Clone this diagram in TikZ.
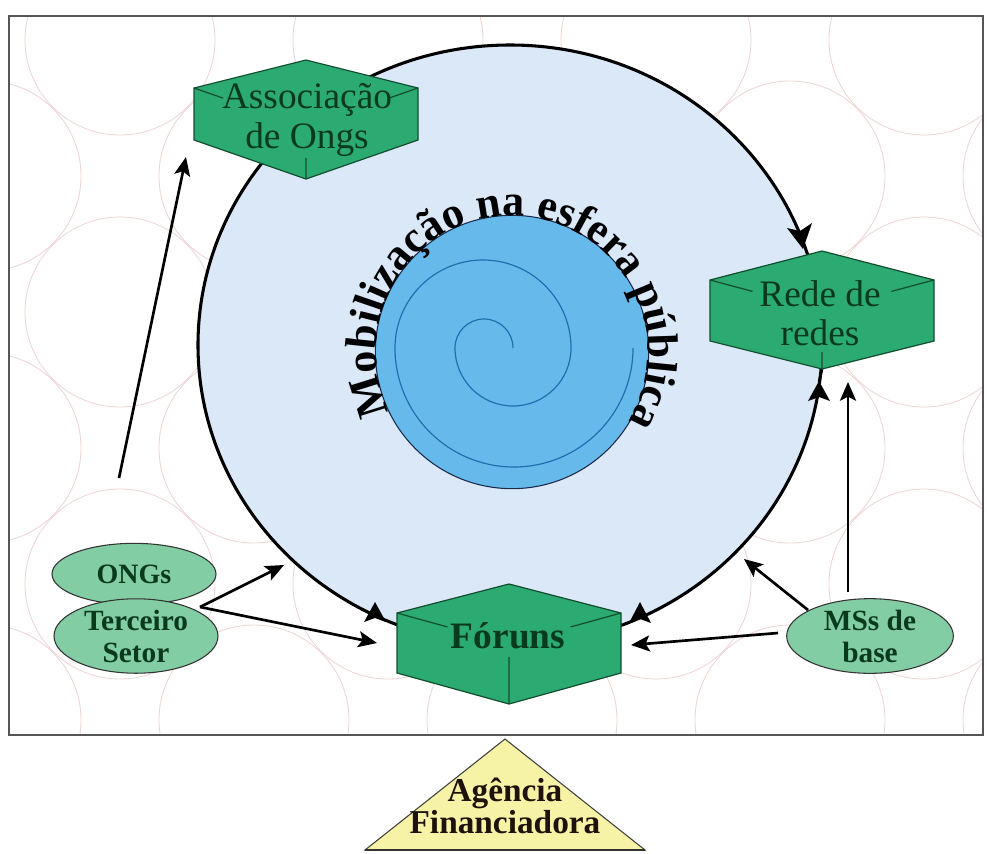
\documentclass[tikz,border=0pt]{standalone}
\usepackage{fontspec}
\setmainfont{Liberation Serif}
\usetikzlibrary{arrows.meta,decorations.text,shapes.geometric}

\definecolor{bigblue}{HTML}{DAE8F8}
\definecolor{innerblue}{HTML}{66BAEB}
\definecolor{spiralcol}{HTML}{1F6FB0}
\definecolor{navyline}{HTML}{1A2A4A}
\definecolor{boxgreen}{HTML}{2BAA72}
\definecolor{boxline}{HTML}{124D2E}
\definecolor{boxtext}{HTML}{0A3A1E}
\definecolor{ellgreen}{HTML}{82CDA3}
\definecolor{triyellow}{HTML}{F7F3A6}
\definecolor{pinkline}{HTML}{EDD3D3}
\definecolor{framecol}{HTML}{555555}

% #1 cx, #2 top, #3 side top, #4 side bottom, #5 bottom, #6 centre vertex,
% #7 visible fraction of the upper inner edges, #8 y where the vertical edge stops
\newcommand\cubeshape[8]{%
  \draw[cubeface] (#1,#2) -- (#1+112,#3) -- (#1+112,#4) -- (#1,#5) -- (#1-112,#4) -- (#1-112,#3) -- cycle;
  \draw[cubeedge] (#1-112,#3) -- (#1-112+112*#7,#3+#6*#7-#3*#7)
                  (#1+112,#3) -- (#1+112-112*#7,#3+#6*#7-#3*#7)
                  (#1,#5) -- (#1,#8);
}

\tikzset{
  cubeface/.style={fill=boxgreen, draw=boxline, line width=0.9pt},
  cubeedge/.style={draw=boxline, line width=0.9pt},
  cubetext/.style={text=boxtext, align=center, inner sep=1pt},
  ellnode/.style={ellipse, draw=black!80, fill=ellgreen, line width=0.8pt, inner sep=0pt,
     text=boxtext, align=center, font=\bfseries\fontsize{22}{24}\selectfont},
  arr/.style={draw=black, line width=2pt, -{Stealth[length=14pt,width=12pt,inset=3pt]}},
  headfill/.style={fill=black},
  patt/.style={draw=pinkline, line width=0.6pt}
}

\begin{document}
\begin{tikzpicture}[x=0.75pt,y=-0.75pt]
\useasboundingbox (0,0) rectangle (987,853);
\fill[white] (0,0) rectangle (987,853);

% background texture
\begin{scope}
  \clip (9,16) rectangle (983,735);
  \foreach \k in {0,...,6}{
    \pgfmathsetmacro\yy{40+136*\k}
    \pgfmathsetmacro\off{mod(\k,2)*134}
    \foreach \i in {-1,...,4}{
      \pgfmathsetmacro\xx{120+\off+268*\i}
      \draw[patt] (\xx,\yy) circle[radius=95];
    }
  }
\end{scope}
\draw[framecol, line width=1.5pt] (9,16) rectangle (983,735);

% big sphere
\node (esfera) [ellipse, draw=black, line width=2.3pt, fill=bigblue,
  minimum width=468pt, minimum height=450pt, inner sep=0pt] at (510,345) {};

% inner circle and spiral
\node (nucleo) [circle, draw=navyline, fill=innerblue, line width=0.8pt,
  minimum size=205pt, inner sep=0pt] at (512,352) {};
\draw[spiralcol, line width=0.9pt] (513,348)
  arc[start angle=0, end angle=-180, radius=29]
  arc[start angle=180, end angle=0, radius=58]
  arc[start angle=0, end angle=-180, radius=88]
  arc[start angle=180, end angle=0, radius=119];

% curved title text
\path[decorate, decoration={text along path,
  text={|\fontsize{33}{33}\selectfont\bfseries|Mobilização na esfera pública},
  text align={fit to path}}]
  (389.8,411.6) arc[start angle=-206, end angle=31, radius=136];

% arrowheads sitting on the circle
\fill[headfill] (803,249) -- (787,228) -- (800,231) -- (812,223) -- cycle;
\draw[line width=2pt] (819,382) -- (822,369);
\fill[headfill] (819,381) -- (830,401) -- (819,397) -- (808,401) -- cycle;
\fill[headfill] (640,602) -- (651,623) -- (640,619) -- (629,623) -- cycle;
\fill[headfill] (375,602) -- (386,622) -- (375,618) -- (364,622) -- cycle;

% cubes
\cubeshape{306}{60}{88}{140}{179}{127}{0.26}{158}
\node[cubetext, font=\fontsize{28}{30}\selectfont] (assoc) at (307,120) {Associação\\de Ongs};

\cubeshape{822}{251}{280}{341}{369}{310}{0.38}{352}
\node[cubetext, font=\fontsize{28}{29}\selectfont] (rede) at (820,313) {Rede de\\redes};

\cubeshape{509}{584}{613}{673}{704}{644}{0.45}{657}
\node[cubetext, font=\bfseries\fontsize{28}{30}\selectfont] (foruns) at (508,636) {Fóruns};

% ellipses
\node[ellnode, minimum width=123pt, minimum height=46pt, font=\bfseries\fontsize{21}{23}\selectfont] (ongs) at (134,574) {ONGs};
\node[ellnode, minimum width=123pt, minimum height=54pt] (terceiro) at (136,636) {Terceiro\\Setor};
\node[ellnode, minimum width=125pt, minimum height=56pt] (msbase) at (870,636) {MSs de\\base};

% free ends of the connectors
\coordinate (ongsfoot) at (119,478);
\coordinate (assoctip) at (186,157);
\coordinate (tsout) at (200,607);
\coordinate (circtipL) at (284,565);
\coordinate (forunsL) at (377,643);
\coordinate (msleft) at (778,633);
\coordinate (forunsR) at (631,645);
\coordinate (msdiag) at (808,610);
\coordinate (circtipR) at (744,559);
\coordinate (mstop) at (848,592);
\coordinate (redetip) at (848,382);

\draw[arr] (ongsfoot) -- (assoctip);
\draw[arr] (tsout) -- (circtipL);
\draw[arr] (tsout) -- (forunsL);
\draw[arr] (msleft) -- (forunsR);
\draw[arr] (msdiag) -- (circtipR);
\draw[arr] (mstop) -- (redetip);

% funding agency triangle
\draw[fill=triyellow, draw=black!75, line width=0.8pt] (505,739) -- (645,850) -- (365,850) -- cycle;
\draw[black!80, line width=2pt] (365,850) -- (645,850);
\node[align=center, text=black!85!brown, font=\bfseries\fontsize{25}{19}\selectfont, inner sep=0pt] (agencia) at (505,806) {Agência\\Financiadora};
\end{tikzpicture}
\end{document}
